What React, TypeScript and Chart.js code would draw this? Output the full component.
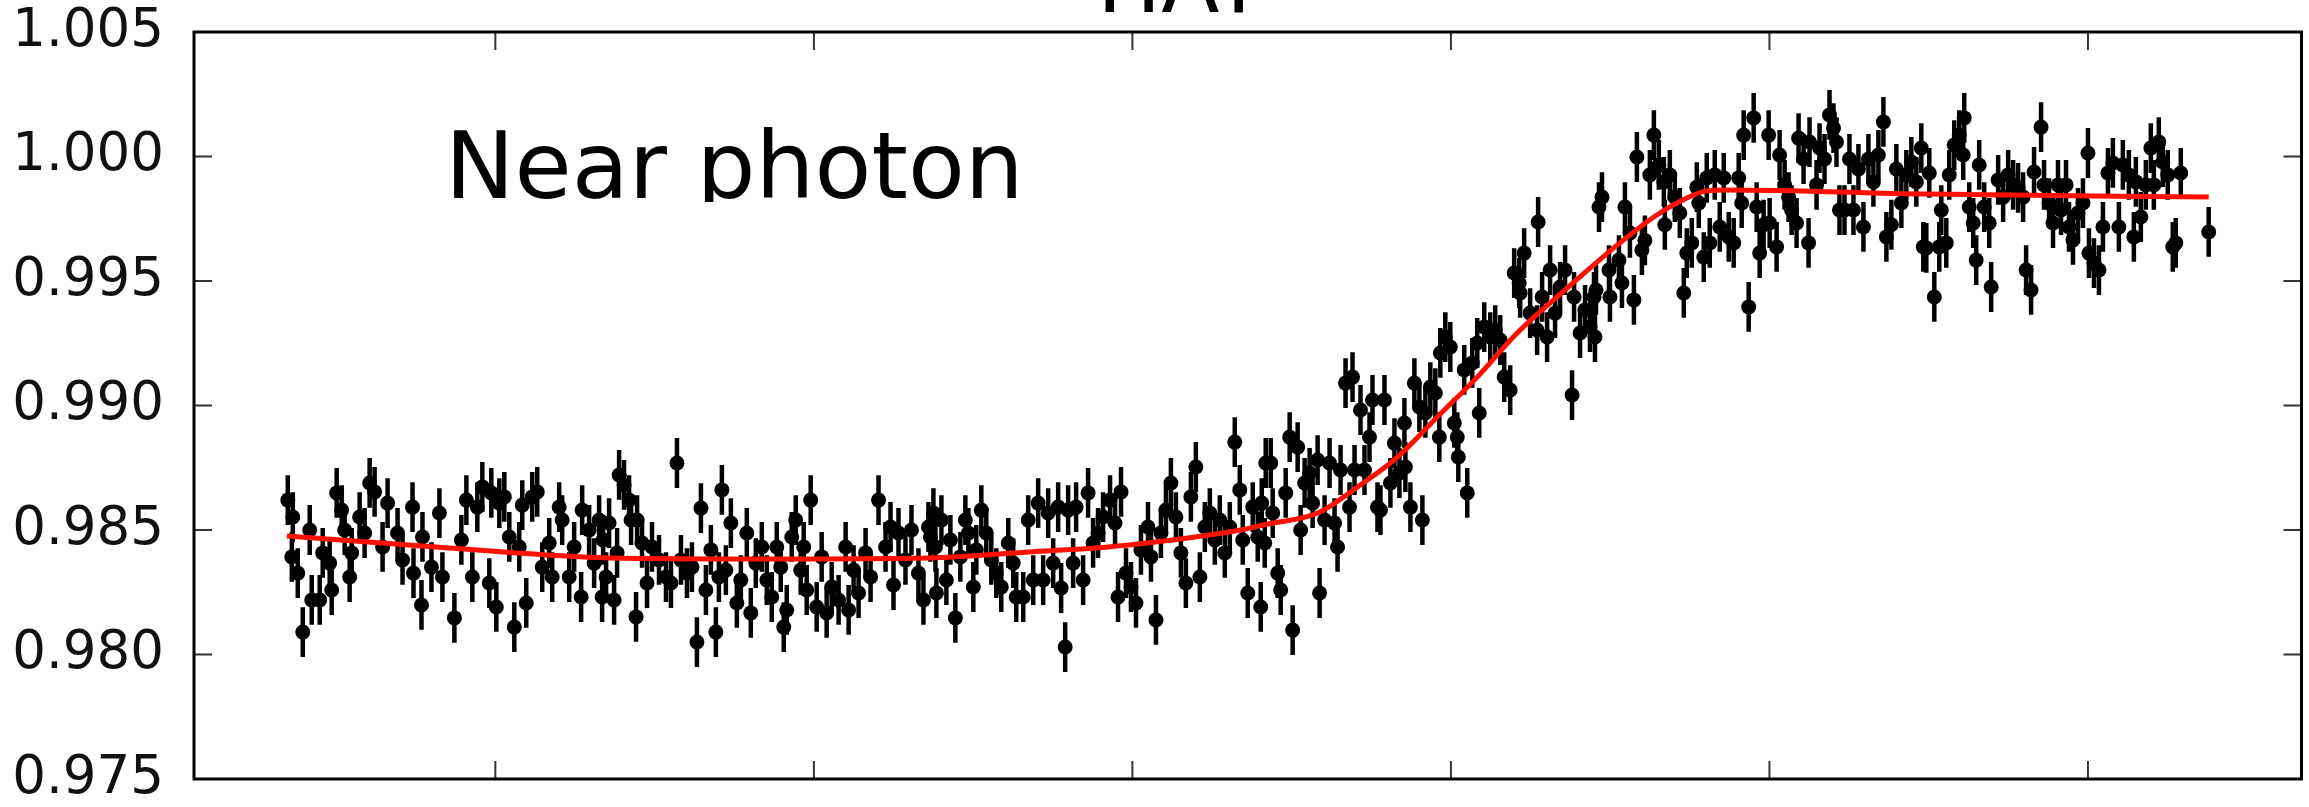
import React, { useEffect, useRef } from "react";
import { Chart, registerables } from "chart.js";

Chart.register(...registerables);

const W = 2309;
const H = 807;

const TITLE = "HAT";
const ANNOTATION = "Near photon";

const Y_TICKS = [0.975, 0.98, 0.985, 0.99, 0.995, 1.0, 1.005];
const X_TICKS = [1, 2, 3, 4, 5, 6];
const X_MIN = 0.0539;
const X_MAX = 6.6704;
const FLUX_ERR = 0.001;

const TIME = [
  0.3484,0.3641,0.3610,0.3797,0.3954,0.4172,0.4235,0.4486,0.4580,0.4799,0.4862,0.5018,0.5175,0.5269,0.5426,0.5489,0.5739,0.5896,0.6053,0.6209,0.6460,0.6617,0.6930,0.7086,0.7399,0.7430,0.7681,0.7712,0.7994,0.8244,0.8338,0.8714,0.8933,0.9090,0.9278,0.9434,0.9591,0.9810,0.9873,1.0030,1.0125,1.0281,1.0438,1.0595,1.0751,1.0845,1.0970,1.1158,1.1315,1.1472,1.1691,1.1785,1.2004,1.2098,1.2318,1.2474,1.2693,1.2725,1.2944,1.3101,1.3258,1.3352,1.3477,
  1.3383,1.3571,1.3728,1.3822,1.3885,1.4041,1.4198,1.4261,1.4417,1.4449,1.4605,1.4762,1.4919,1.5138,1.5357,1.5514,1.5702,1.5827,1.6015,1.6172,1.6328,1.6454,1.6610,1.6767,1.6924,1.7018,1.7112,1.7237,1.7394,1.7582,1.7707,1.7895,1.8020,1.8177,1.8365,1.8522,1.8678,1.8835,1.8960,1.9054,1.9148,1.9305,1.9430,1.9587,1.9681,1.9775,1.9900,2.0088,2.0245,2.0401,2.0558,2.0777,2.0997,2.1091,2.1247,2.1404,2.1623,2.1780,2.2030,2.2250,2.2406,2.2500,2.2657,2.2876,2.3064,2.3283,2.3440,2.3597,2.3816,
  2.3659,2.3753,2.3847,2.4004,2.4160,2.4286,2.4442,2.4599,2.4756,2.4850,2.5006,2.5100,2.5257,2.5413,2.5570,2.5727,2.5883,2.6103,2.6259,2.6353,2.6573,2.6729,2.6886,2.7042,2.7199,2.7356,2.7513,2.7669,2.7763,2.7889,2.7983,2.8139,2.8233,2.8453,2.8609,2.8766,2.8922,2.9079,2.9298,2.9455,2.9549,2.9643,2.9799,2.9956,3.0113,3.0269,3.0489,3.0583,3.0739,3.0896,3.1053,3.1209,3.1366,3.1523,3.1679,3.1836,3.1992,3.2118,3.2274,3.2431,3.2588,3.2744,3.2901,3.3058,3.3214,3.3371,3.3465,3.3622,3.3778,3.3935,3.4029,3.4186,
  3.4061,3.4155,3.4343,3.4405,3.4562,3.4656,3.4813,3.4938,3.5032,3.5188,3.5282,3.5407,3.5564,3.5658,3.5815,3.5877,3.6034,3.6190,3.6347,3.6441,3.6535,3.6692,3.6817,3.6911,3.6974,3.7162,3.7287,3.7444,3.7538,3.7694,3.7788,3.7914,3.8101,3.8227,3.8383,3.8540,3.8571,3.8728,3.8853,3.9010,3.9104,3.9198,3.9354,3.9511,3.9636,3.9668,3.9824,3.9981,4.0106,4.0200,4.0232,4.0419,4.0513,4.0670,4.0827,4.0889,4.1046,4.1234,4.1391,4.1548,4.1673,4.1861,4.1986,4.2143,4.2174,4.2299,4.2487,4.2706,4.2738,4.2863,4.3020,4.3114,4.3270,4.3427,4.3584,4.3803,4.3866,4.4054,4.4210,4.4367,4.4492,
  4.4523,4.4555,4.4649,4.4743,4.4962,4.4993,4.5275,4.5369,4.5463,4.5620,4.5745,4.5839,4.5996,4.6090,4.6246,4.6372,4.6528,4.6685,4.6716,4.6873,4.7029,4.7186,4.7311,4.7405,4.7562,4.7719,4.7782,4.7938,4.8032,4.8126,4.8283,4.8440,4.8565,4.8722,4.8878,4.9035,4.9129,4.9191,4.9348,4.9505,4.9599,4.9693,4.9818,4.9975,5.0006,5.0225,5.0319,5.0476,5.0601,5.0695,5.0852,5.0915,5.1071,5.1228,5.1259,5.1479,5.1573,5.1729,5.1886,5.2011,5.2105,5.2199,5.2356,5.2512,5.2638,5.2794,5.2951,5.3108,5.3264,5.3421,5.3578,5.3672,5.3828,5.3985,5.4142,5.4298,5.4455,5.4612,5.4768,5.4831,
  5.4925,5.5019,5.5176,5.5332,5.5395,5.5552,5.5646,5.5802,5.5959,5.6115,5.6084,5.6272,5.6397,5.6491,5.6585,5.6742,5.6899,5.6961,5.7181,5.7337,5.7494,5.7650,5.7807,5.7964,5.8058,5.8214,5.8308,5.8528,5.8622,5.8778,5.8903,5.9060,5.9154,5.9311,5.9405,5.9530,5.9687,5.9843,6.0000,6.0031,6.0188,6.0345,6.0470,6.0627,6.0783,6.0971,6.1096,6.1284,6.1441,6.1504,6.1660,6.1817,6.1974,6.2068,6.2224,6.2350,6.2506,6.2663,6.2757,6.2914,6.3791,
];

const FLUX = [
  0.98620,0.98552,0.98392,0.98327,0.98090,0.98500,0.98219,0.98219,0.98408,0.98367,0.98259,0.98649,0.98580,0.98500,0.98311,0.98408,0.98552,0.98488,0.98689,0.98653,0.98432,0.98608,0.98488,0.98380,0.98592,0.98327,0.98199,0.98472,0.98351,0.98568,0.98311,0.98147,0.98460,0.98620,0.98311,0.98592,0.98673,0.98287,0.98649,0.98191,0.98608,0.98633,0.98472,0.98110,0.98432,0.98600,0.98207,0.98633,0.98653,0.98351,0.98448,0.98311,0.98592,0.98540,0.98311,0.98432,0.98231,0.98580,0.98500,0.98367,0.98540,0.98231,0.98311,
  0.98460,0.98528,0.98219,0.98408,0.98721,0.98681,0.98620,0.98540,0.98151,0.98540,0.98448,0.98287,0.98432,0.98380,0.98311,0.98287,0.98769,0.98380,0.98327,0.98351,0.98050,0.98588,0.98259,0.98420,0.98090,0.98311,0.98661,0.98339,0.98528,0.98207,0.98299,0.98488,0.98167,0.98367,0.98432,0.98299,0.98231,0.98432,0.98351,0.98110,0.98179,0.98472,0.98540,0.98339,0.98432,0.98259,0.98620,0.98191,0.98392,0.98167,0.98271,0.98219,0.98432,0.98179,0.98339,0.98247,0.98408,0.98311,0.98620,0.98432,0.98512,0.98279,0.98488,0.98380,0.98500,0.98327,0.98219,0.98512,0.98432,
  0.98472,0.98568,0.98247,0.98540,0.98299,0.98460,0.98147,0.98392,0.98540,0.98488,0.98271,0.98420,0.98580,0.98488,0.98380,0.98327,0.98271,0.98448,0.98367,0.98231,0.98231,0.98540,0.98299,0.98608,0.98299,0.98568,0.98367,0.98592,0.98267,0.98030,0.98580,0.98367,0.98592,0.98299,0.98649,0.98448,0.98488,0.98552,0.98620,0.98528,0.98231,0.98653,0.98327,0.98271,0.98207,0.98420,0.98512,0.98392,0.98139,0.98488,0.98580,0.98689,0.98552,0.98408,0.98287,0.98633,0.98753,0.98311,0.98512,0.98568,0.98460,0.98540,0.98408,0.98512,0.98853,0.98661,0.98460,0.98247,0.98592,0.98472,0.98191,0.98769,
  0.98608,0.98448,0.98769,0.98568,0.98327,0.98259,0.98649,0.98873,0.98098,0.98833,0.98500,0.98689,0.98729,0.98608,0.98781,0.98247,0.98540,0.98769,0.98528,0.98432,0.98741,0.99090,0.98592,0.99114,0.98741,0.98982,0.98741,0.98873,0.99022,0.98592,0.98580,0.99022,0.98689,0.98849,0.98729,0.98930,0.98753,0.98592,0.99090,0.98994,0.98540,0.98970,0.99074,0.99050,0.98873,0.99211,0.99275,0.99235,0.98930,0.98873,0.98793,0.99143,0.98649,0.99171,0.99251,0.98970,0.99315,0.99275,0.99303,0.99263,0.99114,0.99062,0.99532,0.99492,0.99452,0.99612,0.99371,0.99303,0.99737,0.99436,0.99275,0.99544,0.99371,0.99476,0.99544,0.99042,0.99436,0.99291,0.99384,0.99315,0.99436,
  0.99275,0.99464,0.99797,0.99837,0.99544,0.99436,0.99584,0.99492,0.99797,0.99693,0.99424,0.99998,0.99624,0.99663,0.99926,1.00086,0.99966,0.99898,0.99726,0.99926,0.99837,0.99773,0.99452,0.99612,0.99653,0.99877,0.99813,0.99596,0.99914,0.99653,0.99926,0.99717,0.99914,0.99677,0.99653,0.99914,0.99813,1.00086,0.99396,1.00155,0.99797,0.99612,0.99726,1.00086,0.99733,0.99637,1.00006,0.99886,0.99837,0.99785,0.99733,1.00074,0.99990,0.99653,1.00058,0.99886,1.00034,0.99990,1.00167,1.00114,1.00058,0.99785,0.99785,0.99990,0.99785,0.99950,0.99717,0.99990,0.99898,1.00006,1.00139,0.99677,0.99726,0.99950,0.99813,0.99926,0.99978,0.99898,1.00034,0.99637,
  0.99633,0.99934,0.99436,0.99637,0.99785,0.99653,0.99926,1.00046,1.00086,1.00155,1.00006,0.99797,0.99733,0.99584,0.99966,0.99797,0.99733,0.99476,0.99906,0.99837,0.99926,0.99886,0.99874,0.99837,0.99544,0.99464,0.99938,1.00118,0.99886,0.99813,0.99733,0.99886,0.99785,0.99886,0.99717,0.99665,0.99773,0.99813,1.00014,0.99612,0.99572,0.99544,0.99717,0.99934,0.99974,0.99717,0.99966,0.99926,0.99677,0.99898,0.99757,0.99886,1.00034,0.99886,1.00058,0.99978,0.99926,0.99637,0.99653,0.99934,0.99697,
];

const MODEL_TIME = [
  0.3454, 0.8557, 1.3570, 1.8584, 2.3597, 2.6729, 2.9236, 3.1961, 3.3402, 3.4248,
  3.5815, 3.7068, 3.8321, 3.9574, 4.0827, 4.2080, 4.3333, 4.4586, 4.5307, 4.6372,
  4.7405, 4.8032, 4.8658, 5.4925, 6.3791,
];
const MODEL_FLUX = [
  0.98476, 0.98428, 0.98388, 0.98384, 0.98388, 0.98412, 0.98432, 0.98472, 0.98500, 0.98524,
  0.98568, 0.98673, 0.98793, 0.98954, 0.99114, 0.99291, 0.99436, 0.99576, 0.99653, 0.99757,
  0.99833, 0.99862, 0.99865, 0.99849, 0.99837,
];

const FONT = "'DejaVu Sans', 'Bitstream Vera Sans', sans-serif";

const decorPlugin = {
  id: "decor",
  beforeDatasetsDraw(chart: any) {
    const { ctx, scales } = chart;
    const x = scales.x;
    const y = scales.y;
    const n = Math.min(TIME.length, FLUX.length);
    ctx.save();
    ctx.strokeStyle = "#000";
    ctx.lineWidth = 4.5;
    ctx.beginPath();
    for (let i = 0; i < n; i++) {
      const px = x.getPixelForValue(TIME[i]);
      ctx.moveTo(px, y.getPixelForValue(FLUX[i] - FLUX_ERR));
      ctx.lineTo(px, y.getPixelForValue(FLUX[i] + FLUX_ERR));
    }
    ctx.stroke();
    ctx.restore();
  },
  afterDraw(chart: any) {
    const { ctx, chartArea: a, scales } = chart;
    const x = scales.x;
    const y = scales.y;
    const TL = 18;
    ctx.save();
    ctx.strokeStyle = "#333";
    ctx.lineWidth = 2;
    ctx.beginPath();
    X_TICKS.forEach((v) => {
      const px = x.getPixelForValue(v);
      ctx.moveTo(px, a.bottom);
      ctx.lineTo(px, a.bottom - TL);
      ctx.moveTo(px, a.top);
      ctx.lineTo(px, a.top + TL);
    });
    Y_TICKS.forEach((v) => {
      const py = y.getPixelForValue(v);
      ctx.moveTo(a.left, py);
      ctx.lineTo(a.left + TL, py);
      ctx.moveTo(a.right, py);
      ctx.lineTo(a.right - TL, py);
    });
    ctx.stroke();

    ctx.strokeStyle = "#000";
    ctx.lineWidth = 3;
    ctx.strokeRect(a.left, a.top, a.right - a.left, a.bottom - a.top);

    ctx.fillStyle = "#000";
    ctx.font = `85px ${FONT}`;
    ctx.textAlign = "center";
    ctx.textBaseline = "alphabetic";
    ctx.fillText(TITLE, 1181, 12);

    ctx.beginPath();
    ctx.rect(0, 0, W, 202);
    ctx.clip();
    ctx.font = `93px ${FONT}`;
    ctx.textAlign = "left";
    ctx.fillText(ANNOTATION, 445, 198);
    ctx.restore();
  },
};

export default function App() {
  const ref = useRef<HTMLCanvasElement | null>(null);

  useEffect(() => {
    const canvas = ref.current;
    if (!canvas) return;
    const n = Math.min(TIME.length, FLUX.length);
    const points = [];
    for (let i = 0; i < n; i++) points.push({ x: TIME[i], y: FLUX[i] });
    const model = MODEL_TIME.map((t, i) => ({ x: t, y: MODEL_FLUX[i] }));

    const chart = new Chart(canvas, {
      type: "scatter",
      data: {
        datasets: [
          {
            type: "line",
            label: "model",
            data: model,
            borderColor: "rgb(255,16,0)",
            borderWidth: 5,
            pointRadius: 0,
            fill: false,
            cubicInterpolationMode: "monotone",
            order: 0,
          } as any,
          {
            type: "scatter",
            label: "flux",
            data: points,
            backgroundColor: "#000",
            borderColor: "#000",
            borderWidth: 0,
            pointRadius: 7.5,
            pointHoverRadius: 7.5,
            order: 1,
          } as any,
        ],
      },
      options: {
        animation: false,
        responsive: false,
        devicePixelRatio: 1,
        events: [],
        layout: { padding: { top: 32, right: 3, left: 0, bottom: 0 } },
        plugins: {
          legend: { display: false },
          title: { display: false },
          tooltip: { enabled: false },
        },
        scales: {
          x: {
            type: "linear",
            min: X_MIN,
            max: X_MAX,
            afterBuildTicks: (s: any) => {
              s.ticks = X_TICKS.map((v) => ({ value: v }));
            },
            ticks: { display: false },
            grid: { display: false },
            border: { display: false },
            afterFit: (s: any) => {
              s.height = 28;
              s.paddingLeft = 0;
              s.paddingRight = 0;
            },
          },
          y: {
            type: "linear",
            min: 0.975,
            max: 1.005,
            afterBuildTicks: (s: any) => {
              s.ticks = Y_TICKS.map((v) => ({ value: v }));
            },
            ticks: {
              font: { family: FONT, size: 53 },
              color: "#111",
              padding: 22,
              callback: (v: any) => Number(v).toFixed(3),
            },
            grid: { display: false },
            border: { display: false },
            afterFit: (s: any) => {
              s.width = 194;
              s.paddingTop = 0;
              s.paddingBottom = 0;
            },
          },
        },
      } as any,
      plugins: [decorPlugin],
    });
    return () => chart.destroy();
  }, []);

  return (
    <div style={{ position: "fixed", left: 0, top: 0, width: W, height: H, background: "#fff" }}>
      <canvas ref={ref} width={W} height={H} style={{ display: "block", width: W, height: H }} />
    </div>
  );
}
